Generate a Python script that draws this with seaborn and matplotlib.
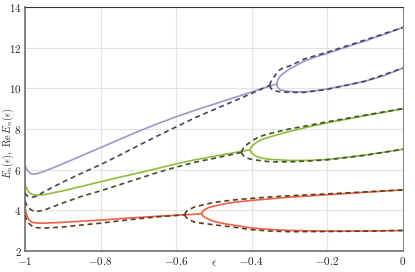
import numpy as np
import matplotlib
matplotlib.use("Agg")
import matplotlib.pyplot as plt
import pandas as pd
import seaborn as sns

sns.set_theme(style="whitegrid")
plt.rcParams['font.family'] = 'serif'
plt.rcParams['font.serif'] = ['cmr10', 'DejaVu Serif']
plt.rcParams['mathtext.fontset'] = 'cm'
plt.rcParams['axes.formatter.use_mathtext'] = True

# ---- pair n=1,2 (red) ----
red_left_x = [-1, -0.995, -0.99, -0.985, -0.98, -0.97, -0.95, -0.9, -0.85, -0.8, -0.75, -0.7, -0.65, -0.6, -0.55, -0.533]
red_left_y = [4.08, 3.75, 3.55, 3.45, 3.40, 3.37, 3.36, 3.40, 3.46, 3.51, 3.58, 3.64, 3.70, 3.75, 3.80, 3.83]
red_up_x = [-0.533, -0.53, -0.525, -0.515, -0.5, -0.475, -0.45, -0.4, -0.35, -0.3, -0.2, -0.1, 0]
red_up_y = [3.83, 3.93, 4.02, 4.12, 4.20, 4.30, 4.38, 4.48, 4.56, 4.64, 4.76, 4.88, 5.0]
red_lo_x = [-0.533, -0.53, -0.525, -0.515, -0.5, -0.475, -0.45, -0.4, -0.35, -0.3, -0.2, -0.1, 0]
red_lo_y = [3.83, 3.74, 3.66, 3.56, 3.45, 3.34, 3.27, 3.12, 3.05, 3.0, 2.97, 2.97, 3.0]

red_d_left_x = [-1, -0.995, -0.99, -0.98, -0.97, -0.95, -0.9, -0.85, -0.8, -0.75, -0.7, -0.65, -0.6, -0.577]
red_d_left_y = [3.75, 3.50, 3.35, 3.20, 3.14, 3.12, 3.17, 3.27, 3.36, 3.47, 3.58, 3.67, 3.74, 3.78]
red_d_up_x = [-0.577, -0.575, -0.57, -0.56, -0.55, -0.5, -0.45, -0.4, -0.35, -0.3, -0.2, -0.1, 0]
red_d_up_y = [3.78, 3.88, 3.98, 4.08, 4.17, 4.38, 4.50, 4.58, 4.65, 4.71, 4.80, 4.90, 5.0]
red_d_lo_x = [-0.577, -0.575, -0.57, -0.56, -0.55, -0.5, -0.45, -0.4, -0.35, -0.3, -0.2, -0.1, 0]
red_d_lo_y = [3.78, 3.68, 3.58, 3.48, 3.40, 3.28, 3.17, 3.04, 2.97, 2.94, 2.95, 2.97, 3.0]

# ---- pair n=3,4 (green) ----
grn_left_x = [-1, -0.995, -0.99, -0.985, -0.98, -0.97, -0.95, -0.9, -0.85, -0.8, -0.75, -0.7, -0.65, -0.6, -0.55, -0.5, -0.45, -0.405]
grn_left_y = [5.28, 5.05, 4.90, 4.82, 4.77, 4.74, 4.76, 4.95, 5.17, 5.40, 5.62, 5.83, 6.05, 6.28, 6.48, 6.65, 6.82, 6.97]
grn_up_x = [-0.405, -0.402, -0.398, -0.39, -0.38, -0.37, -0.35, -0.3, -0.25, -0.2, -0.15, -0.1, -0.05, 0]
grn_up_y = [6.97, 7.08, 7.18, 7.30, 7.42, 7.50, 7.62, 7.88, 8.10, 8.30, 8.48, 8.65, 8.82, 9.0]
grn_lo_x = [-0.405, -0.402, -0.398, -0.39, -0.38, -0.37, -0.35, -0.3, -0.25, -0.2, -0.15, -0.1, -0.05, 0]
grn_lo_y = [6.97, 6.86, 6.77, 6.67, 6.60, 6.55, 6.50, 6.45, 6.45, 6.50, 6.60, 6.72, 6.85, 7.0]

grn_d_left_x = [-1, -0.995, -0.99, -0.98, -0.97, -0.95, -0.9, -0.85, -0.8, -0.75, -0.7, -0.65, -0.6, -0.55, -0.5, -0.45, -0.427]
grn_d_left_y = [4.45, 4.25, 4.10, 3.98, 3.93, 4.00, 4.35, 4.68, 4.95, 5.25, 5.55, 5.85, 6.12, 6.36, 6.55, 6.75, 6.85]
grn_d_up_x = [-0.427, -0.425, -0.42, -0.41, -0.4, -0.39, -0.37, -0.35, -0.3, -0.25, -0.2, -0.1, 0]
grn_d_up_y = [6.85, 6.97, 7.10, 7.27, 7.40, 7.52, 7.68, 7.78, 8.00, 8.17, 8.35, 8.68, 9.0]
grn_d_lo_x = [-0.427, -0.425, -0.42, -0.41, -0.4, -0.39, -0.35, -0.3, -0.25, -0.2, -0.1, 0]
grn_d_lo_y = [6.85, 6.75, 6.65, 6.55, 6.50, 6.47, 6.38, 6.38, 6.42, 6.48, 6.70, 7.0]

# ---- pair n=5,6 (purple) ----
pur_left_x = [-1, -0.995, -0.99, -0.985, -0.98, -0.97, -0.95, -0.9, -0.85, -0.8, -0.75, -0.7, -0.65, -0.6, -0.55, -0.5, -0.45, -0.4, -0.35, -0.334]
pur_left_y = [6.22, 6.00, 5.88, 5.81, 5.78, 5.79, 5.90, 6.28, 6.68, 7.08, 7.48, 7.88, 8.25, 8.60, 8.92, 9.22, 9.52, 9.82, 10.12, 10.21]
pur_up_x = [-0.334, -0.333, -0.33, -0.325, -0.32, -0.31, -0.3, -0.28, -0.26, -0.23, -0.2, -0.15, -0.1, -0.05, 0]
pur_up_y = [10.21, 10.30, 10.45, 10.60, 10.68, 10.82, 10.95, 11.15, 11.35, 11.55, 11.72, 12.03, 12.33, 12.65, 13.0]
pur_lo_x = [-0.334, -0.333, -0.33, -0.325, -0.32, -0.31, -0.3, -0.28, -0.26, -0.23, -0.2, -0.15, -0.1, -0.05, 0]
pur_lo_y = [10.21, 10.12, 10.00, 9.93, 9.90, 9.87, 9.85, 9.83, 9.83, 9.88, 9.97, 10.15, 10.35, 10.62, 11.0]

pur_d_left_x = [-1, -0.995, -0.99, -0.98, -0.97, -0.95, -0.9, -0.85, -0.8, -0.75, -0.7, -0.65, -0.6, -0.55, -0.5, -0.45, -0.4, -0.352]
pur_d_left_y = [4.85, 4.72, 4.66, 4.64, 4.68, 4.90, 5.38, 5.82, 6.24, 6.70, 7.18, 7.65, 8.10, 8.55, 8.95, 9.35, 9.75, 10.15]
pur_d_up_x = [-0.352, -0.35, -0.345, -0.34, -0.33, -0.32, -0.3, -0.26, -0.2, -0.1, 0]
pur_d_up_y = [10.15, 10.30, 10.45, 10.58, 10.85, 10.98, 11.10, 11.45, 11.78, 12.38, 13.0]
pur_d_lo_x = [-0.352, -0.35, -0.345, -0.34, -0.33, -0.3, -0.26, -0.2, -0.1, 0]
pur_d_lo_y = [10.15, 10.02, 9.93, 9.88, 9.84, 9.80, 9.80, 9.95, 10.35, 11.0]

xticks = [-1, -0.8, -0.6, -0.4, -0.2, 0]
xtick_labels = ['$-1$', '$-0.8$', '$-0.6$', '$-0.4$', '$-0.2$', '$0$']
yticks = [2, 4, 6, 8, 10, 12, 14]

solid_colors = {'red': '#f0603f', 'green': '#8fbc3a', 'purple': '#a393cc'}
dash_colors = {'red': '#5a3c2a', 'green': '#434d2f', 'purple': '#46465a'}

curves = [
    ('red', 'solid', red_left_x, red_left_y), ('red', 'solid', red_up_x, red_up_y), ('red', 'solid', red_lo_x, red_lo_y),
    ('green', 'solid', grn_left_x, grn_left_y), ('green', 'solid', grn_up_x, grn_up_y), ('green', 'solid', grn_lo_x, grn_lo_y),
    ('purple', 'solid', pur_left_x, pur_left_y), ('purple', 'solid', pur_up_x, pur_up_y), ('purple', 'solid', pur_lo_x, pur_lo_y),
    ('red', 'dash', red_d_left_x, red_d_left_y), ('red', 'dash', red_d_up_x, red_d_up_y), ('red', 'dash', red_d_lo_x, red_d_lo_y),
    ('green', 'dash', grn_d_left_x, grn_d_left_y), ('green', 'dash', grn_d_up_x, grn_d_up_y), ('green', 'dash', grn_d_lo_x, grn_d_lo_y),
    ('purple', 'dash', pur_d_left_x, pur_d_left_y), ('purple', 'dash', pur_d_up_x, pur_d_up_y), ('purple', 'dash', pur_d_lo_x, pur_d_lo_y),
]

fig = plt.figure(figsize=(4.15, 2.72), dpi=100)
ax = fig.add_axes([0.060, 0.078, 0.911, 0.896])

for pair, kind, xs, ys in curves:
    df = pd.DataFrame({'eps': xs, 'E': ys})
    if kind == 'solid':
        sns.lineplot(data=df, x='eps', y='E', ax=ax, color=solid_colors[pair],
                     linewidth=1.2, sort=False, zorder=2)
    else:
        sns.lineplot(data=df, x='eps', y='E', ax=ax, color=dash_colors[pair],
                     linewidth=1.2, sort=False, zorder=3, linestyle=(0, (3, 2.2)))

ax.set_xlim(-1, 0)
ax.set_ylim(2, 14)
ax.set_xticks(xticks)
ax.set_xticklabels(xtick_labels)
ax.set_yticks(yticks)
ax.set_yticklabels(['$%d$' % t for t in yticks])
ax.tick_params(labelsize=8, length=0, pad=3, colors='#222222')
ax.tick_params(axis='y', pad=2.5)
ax.grid(True, color='#e3e3e3', linewidth=0.8)
ax.set_xlabel(r'$\epsilon$', fontsize=8)
ax.set_ylabel(r'$E_n(\epsilon),\ \mathrm{Re}\,E_n(\epsilon)$', fontsize=7.4)
ax.xaxis.set_label_coords(0.5, -0.035)
ax.yaxis.set_label_coords(-0.024, 0.44)

for side in ['left', 'bottom']:
    ax.spines[side].set_color('#7a7a7a')
    ax.spines[side].set_linewidth(1.3)
ax.spines['top'].set_color('#333333')
ax.spines['top'].set_linewidth(0.8)
ax.spines['right'].set_color('#8a8a8a')
ax.spines['right'].set_linewidth(0.8)

fig.savefig('out.png', dpi=100)
